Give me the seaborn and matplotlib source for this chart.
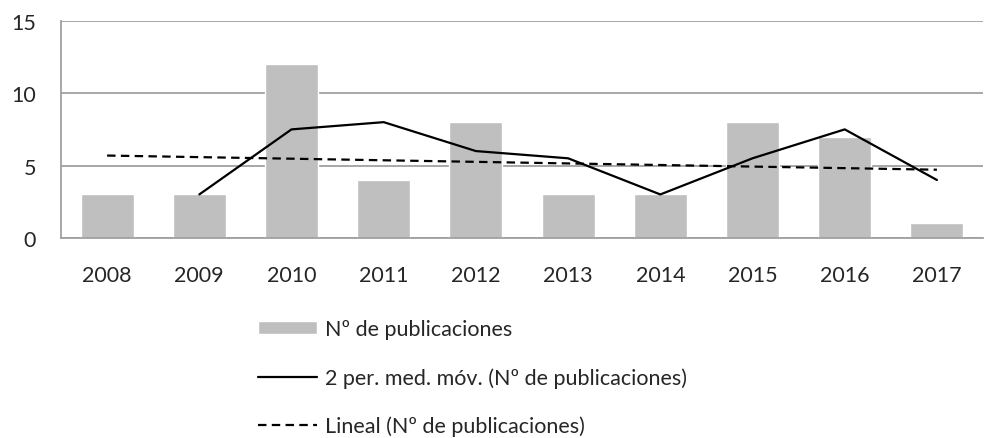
import numpy as np
import matplotlib
matplotlib.use("Agg")
import matplotlib.pyplot as plt
import pandas as pd
import seaborn as sns

# valores
years = ["2008", "2009", "2010", "2011", "2012", "2013", "2014", "2015", "2016", "2017"]
publicaciones = [3, 3, 12, 4, 8, 3, 3, 8, 7, 1]
# media movil de 2 periodos (empieza en 2009)
media_years = ["2009", "2010", "2011", "2012", "2013", "2014", "2015", "2016", "2017"]
media_movil = [3, 7.5, 8, 6, 5.5, 3, 5.5, 7.5, 4]
# tendencia lineal (extremos)
trend_years = ["2008", "2017"]
trend_vals = [5.69, 4.71]

lbl_bar = "Nº de publicaciones"
lbl_mm = "2 per. med. móv. (Nº de publicaciones)"
lbl_lin = "Lineal (Nº de publicaciones)"

sns.set_style("white")
plt.rcParams['font.family'] = ['Lato', 'DejaVu Sans']

df_bar = pd.DataFrame({'year': years, 'n': publicaciones})
df_mm = pd.DataFrame({'year': media_years, 'n': media_movil})
df_lin = pd.DataFrame({'year': trend_years, 'n': trend_vals})

fig = plt.figure(figsize=(9.84, 4.39), dpi=100)
ax = fig.add_axes([0.062, 0.456, 0.937, 0.494])

sns.barplot(data=df_bar, x='year', y='n', order=years, color='#bfbfbf',
            width=0.575, saturation=1, ax=ax, label=lbl_bar)
sns.lineplot(data=df_mm, x='year', y='n', color='black', linewidth=1.6,
             ax=ax, label=lbl_mm)
sns.lineplot(data=df_lin, x='year', y='n', color='black', linewidth=1.6,
             dashes=False, ax=ax, label=lbl_lin)
ax.lines[-1].set_linestyle((0, (3.8, 2.4)))

ax.set_xlim(-0.5, 9.5)
ax.set_ylim(0, 15)
ax.set_yticks([0, 5, 10, 15])
ax.set_xlabel('')
ax.set_ylabel('')
ax.yaxis.grid(True, color='#a0a0a0', linewidth=1.3)
ax.set_axisbelow(True)
for s in ['top', 'right']:
    ax.spines[s].set_visible(False)
for s in ['left', 'bottom']:
    ax.spines[s].set_color('#a0a0a0')
    ax.spines[s].set_linewidth(1.3)
ax.tick_params(axis='y', length=0, pad=18, labelsize=15.5)
ax.tick_params(axis='x', length=0, pad=19.5, labelsize=15.5)

handles, labels = ax.get_legend_handles_labels()
ax.get_legend().remove()
orden = [labels.index(l) for l in [lbl_bar, lbl_mm, lbl_lin]]
handles = [handles[i] for i in orden]
labels = [labels[i] for i in orden]
fig.legend(handles, labels, loc='upper left', bbox_to_anchor=(0.262, 0.27),
           frameon=False, fontsize=15.5, handlelength=2.75, handleheight=0.56,
           handletextpad=0.37, labelspacing=1.28, borderpad=0, borderaxespad=0)

fig.savefig('out.png', dpi=100)
